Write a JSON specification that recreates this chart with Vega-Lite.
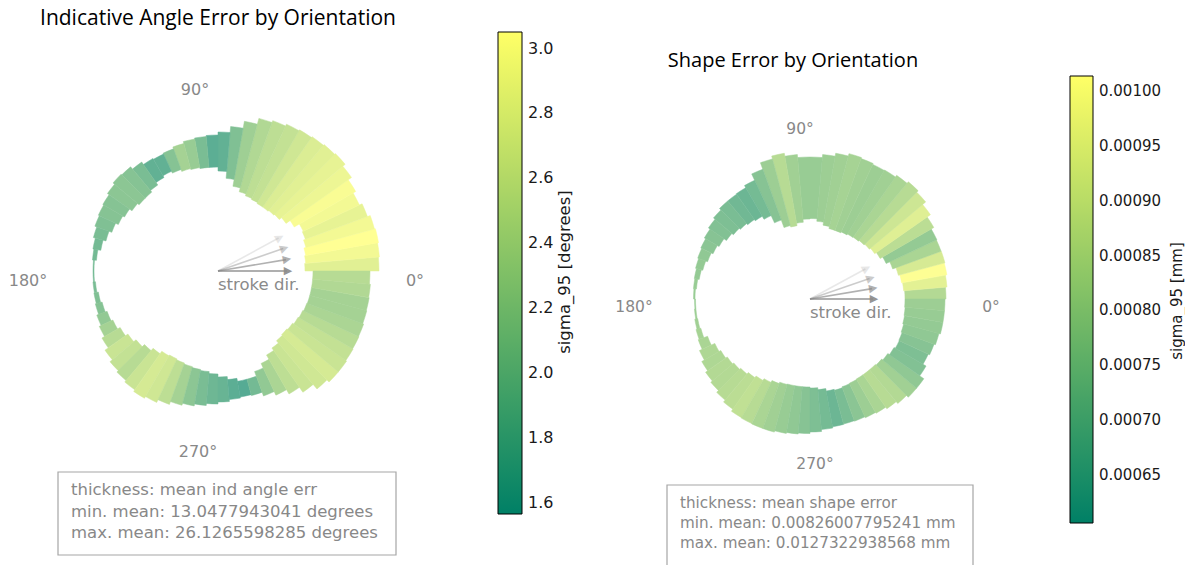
{
  "$schema": "https://vega.github.io/schema/vega-lite/v6.json",
  "background": "white",
  "padding": {"top": 8, "left": 0, "right": 0, "bottom": 0},
  "autosize": {"type": "pad"},
  "bounds": "flush",
  "spacing": 0,
  "config": {
    "view": {"stroke": null},
    "font": "DejaVu Sans",
    "title": {"font": "Open Sans", "fontWeight": "normal", "color": "#000000"}
  },
  "datasets": {
    "angle": [
      {"a0": 0, "a1": 5, "rin": 87, "rout": 161, "s": 2.8},
      {"a0": 5, "a1": 10, "rin": 88, "rout": 162, "s": 2.95},
      {"a0": 10, "a1": 15, "rin": 89, "rout": 163, "s": 3.05},
      {"a0": 15, "a1": 20, "rin": 91, "rout": 162, "s": 2.95},
      {"a0": 20, "a1": 25, "rin": 93, "rout": 159, "s": 2.85},
      {"a0": 25, "a1": 30, "rin": 94, "rout": 156, "s": 2.95},
      {"a0": 30, "a1": 35, "rin": 88, "rout": 159, "s": 3.0},
      {"a0": 35, "a1": 40, "rin": 83, "rout": 163, "s": 2.9},
      {"a0": 40, "a1": 45, "rin": 80, "rout": 166, "s": 2.85},
      {"a0": 45, "a1": 50, "rin": 79, "rout": 165, "s": 2.8},
      {"a0": 50, "a1": 55, "rin": 78, "rout": 164, "s": 2.75},
      {"a0": 55, "a1": 60, "rin": 78, "rout": 163, "s": 2.65},
      {"a0": 60, "a1": 65, "rin": 79, "rout": 162, "s": 2.55},
      {"a0": 65, "a1": 70, "rin": 80, "rout": 160, "s": 2.5},
      {"a0": 70, "a1": 75, "rin": 82, "rout": 158, "s": 2.4},
      {"a0": 75, "a1": 80, "rin": 86, "rout": 152, "s": 2.25},
      {"a0": 80, "a1": 85, "rin": 93, "rout": 145, "s": 2.0},
      {"a0": 85, "a1": 90, "rin": 100, "rout": 139, "s": 1.75},
      {"a0": 90, "a1": 95, "rin": 104, "rout": 136, "s": 1.7},
      {"a0": 95, "a1": 100, "rin": 104, "rout": 135, "s": 1.95},
      {"a0": 100, "a1": 105, "rin": 105, "rout": 134, "s": 2.2},
      {"a0": 105, "a1": 110, "rin": 106, "rout": 132, "s": 2.3},
      {"a0": 110, "a1": 115, "rin": 108, "rout": 130, "s": 2.05},
      {"a0": 115, "a1": 120, "rin": 110, "rout": 129, "s": 1.75},
      {"a0": 120, "a1": 125, "rin": 108, "rout": 130, "s": 1.75},
      {"a0": 125, "a1": 130, "rin": 105, "rout": 133, "s": 1.95},
      {"a0": 130, "a1": 135, "rin": 103, "rout": 136, "s": 2.05},
      {"a0": 135, "a1": 140, "rin": 103, "rout": 137, "s": 2.1},
      {"a0": 140, "a1": 145, "rin": 105, "rout": 135, "s": 2.1},
      {"a0": 145, "a1": 150, "rin": 108, "rout": 133, "s": 2.05},
      {"a0": 150, "a1": 155, "rin": 110, "rout": 132, "s": 2.05},
      {"a0": 155, "a1": 160, "rin": 113, "rout": 131, "s": 2.0},
      {"a0": 160, "a1": 165, "rin": 116, "rout": 129, "s": 1.95},
      {"a0": 165, "a1": 170, "rin": 119, "rout": 127, "s": 1.9},
      {"a0": 170, "a1": 175, "rin": 122, "rout": 126, "s": 1.9},
      {"a0": 175, "a1": 180, "rin": 124, "rout": 125, "s": 1.9},
      {"a0": 180, "a1": 185, "rin": 124, "rout": 125, "s": 1.9},
      {"a0": 185, "a1": 190, "rin": 123, "rout": 125.5, "s": 1.95},
      {"a0": 190, "a1": 195, "rin": 121.5, "rout": 126, "s": 2.0},
      {"a0": 195, "a1": 200, "rin": 120, "rout": 127, "s": 2.05},
      {"a0": 200, "a1": 205, "rin": 118, "rout": 129, "s": 2.15},
      {"a0": 205, "a1": 210, "rin": 116, "rout": 131, "s": 2.3},
      {"a0": 210, "a1": 215, "rin": 113, "rout": 134, "s": 2.45},
      {"a0": 215, "a1": 220, "rin": 110, "rout": 138, "s": 2.6},
      {"a0": 220, "a1": 225, "rin": 107, "rout": 141, "s": 2.55},
      {"a0": 225, "a1": 230, "rin": 104, "rout": 143, "s": 2.45},
      {"a0": 230, "a1": 235, "rin": 101, "rout": 145, "s": 2.6},
      {"a0": 235, "a1": 240, "rin": 98, "rout": 147, "s": 2.7},
      {"a0": 240, "a1": 245, "rin": 97, "rout": 145, "s": 2.65},
      {"a0": 245, "a1": 250, "rin": 98, "rout": 142, "s": 2.5},
      {"a0": 250, "a1": 255, "rin": 99, "rout": 139, "s": 2.3},
      {"a0": 255, "a1": 260, "rin": 100, "rout": 137, "s": 2.1},
      {"a0": 260, "a1": 265, "rin": 101, "rout": 135, "s": 1.95},
      {"a0": 265, "a1": 270, "rin": 103, "rout": 133, "s": 1.85},
      {"a0": 270, "a1": 275, "rin": 106, "rout": 131, "s": 1.8},
      {"a0": 275, "a1": 280, "rin": 109, "rout": 129, "s": 1.7},
      {"a0": 280, "a1": 285, "rin": 112, "rout": 128, "s": 1.65},
      {"a0": 285, "a1": 290, "rin": 112, "rout": 129, "s": 1.9},
      {"a0": 290, "a1": 295, "rin": 107, "rout": 133, "s": 2.15},
      {"a0": 295, "a1": 300, "rin": 102, "rout": 137, "s": 2.35},
      {"a0": 300, "a1": 305, "rin": 97, "rout": 142, "s": 2.5},
      {"a0": 305, "a1": 310, "rin": 94, "rout": 148, "s": 2.6},
      {"a0": 310, "a1": 315, "rin": 91, "rout": 154, "s": 2.65},
      {"a0": 315, "a1": 320, "rin": 90, "rout": 157, "s": 2.7},
      {"a0": 320, "a1": 325, "rin": 91, "rout": 157, "s": 2.6},
      {"a0": 325, "a1": 330, "rin": 92.5, "rout": 156, "s": 2.55},
      {"a0": 330, "a1": 335, "rin": 93.5, "rout": 155.5, "s": 2.45},
      {"a0": 335, "a1": 340, "rin": 94.5, "rout": 155, "s": 2.35},
      {"a0": 340, "a1": 345, "rin": 95, "rout": 154, "s": 2.3},
      {"a0": 345, "a1": 350, "rin": 95, "rout": 153.5, "s": 2.3},
      {"a0": 350, "a1": 355, "rin": 95, "rout": 153, "s": 2.4},
      {"a0": 355, "a1": 360, "rin": 95, "rout": 152, "s": 2.45}
    ],
    "shape": [
      {"a0": 0, "a1": 5, "rin": 95, "rout": 136, "s": 0.00084},
      {"a0": 5, "a1": 10, "rin": 94, "rout": 137.5, "s": 0.00095},
      {"a0": 10, "a1": 15, "rin": 93, "rout": 139, "s": 0.00101},
      {"a0": 15, "a1": 20, "rin": 91.5, "rout": 139.7, "s": 0.00092},
      {"a0": 20, "a1": 25, "rin": 88, "rout": 139.5, "s": 0.00082},
      {"a0": 25, "a1": 30, "rin": 84, "rout": 140, "s": 0.00077},
      {"a0": 30, "a1": 35, "rin": 81, "rout": 143, "s": 0.00086},
      {"a0": 35, "a1": 40, "rin": 79, "rout": 147, "s": 0.00094},
      {"a0": 40, "a1": 45, "rin": 77.5, "rout": 151, "s": 0.0009},
      {"a0": 45, "a1": 50, "rin": 76.5, "rout": 153, "s": 0.00085},
      {"a0": 50, "a1": 55, "rin": 75.5, "rout": 151, "s": 0.00082},
      {"a0": 55, "a1": 60, "rin": 75, "rout": 149, "s": 0.0008},
      {"a0": 60, "a1": 65, "rin": 74, "rout": 148.5, "s": 0.00079},
      {"a0": 65, "a1": 70, "rin": 73, "rout": 149.5, "s": 0.0008},
      {"a0": 70, "a1": 75, "rin": 73, "rout": 150.5, "s": 0.00081},
      {"a0": 75, "a1": 80, "rin": 75, "rout": 148, "s": 0.0008},
      {"a0": 80, "a1": 85, "rin": 78, "rout": 145, "s": 0.00079},
      {"a0": 85, "a1": 90, "rin": 80.5, "rout": 142, "s": 0.00078},
      {"a0": 90, "a1": 95, "rin": 80, "rout": 142, "s": 0.00078},
      {"a0": 95, "a1": 100, "rin": 77, "rout": 145, "s": 0.0008},
      {"a0": 100, "a1": 105, "rin": 74.5, "rout": 148, "s": 0.00085},
      {"a0": 105, "a1": 110, "rin": 76, "rout": 145, "s": 0.00079},
      {"a0": 110, "a1": 115, "rin": 84, "rout": 138, "s": 0.00074},
      {"a0": 115, "a1": 120, "rin": 92, "rout": 131, "s": 0.0007},
      {"a0": 120, "a1": 125, "rin": 95.5, "rout": 128.5, "s": 0.00068},
      {"a0": 125, "a1": 130, "rin": 97, "rout": 128, "s": 0.00069},
      {"a0": 130, "a1": 135, "rin": 98.5, "rout": 128, "s": 0.00071},
      {"a0": 135, "a1": 140, "rin": 100, "rout": 126, "s": 0.00072},
      {"a0": 140, "a1": 145, "rin": 102, "rout": 124, "s": 0.00073},
      {"a0": 145, "a1": 150, "rin": 105, "rout": 122, "s": 0.00074},
      {"a0": 150, "a1": 155, "rin": 107, "rout": 120.5, "s": 0.00075},
      {"a0": 155, "a1": 160, "rin": 109, "rout": 119.5, "s": 0.00076},
      {"a0": 160, "a1": 165, "rin": 111, "rout": 118.5, "s": 0.00077},
      {"a0": 165, "a1": 170, "rin": 112.5, "rout": 117.5, "s": 0.00077},
      {"a0": 170, "a1": 175, "rin": 114, "rout": 117, "s": 0.00078},
      {"a0": 175, "a1": 180, "rin": 115, "rout": 116.5, "s": 0.00078},
      {"a0": 180, "a1": 185, "rin": 114.5, "rout": 115.5, "s": 0.00078},
      {"a0": 185, "a1": 190, "rin": 114.5, "rout": 116, "s": 0.00079},
      {"a0": 190, "a1": 195, "rin": 114, "rout": 117, "s": 0.0008},
      {"a0": 195, "a1": 200, "rin": 113, "rout": 118, "s": 0.00081},
      {"a0": 200, "a1": 205, "rin": 109, "rout": 119, "s": 0.00082},
      {"a0": 205, "a1": 210, "rin": 105, "rout": 122, "s": 0.00083},
      {"a0": 210, "a1": 215, "rin": 103, "rout": 125, "s": 0.00083},
      {"a0": 215, "a1": 220, "rin": 101, "rout": 127.5, "s": 0.00084},
      {"a0": 220, "a1": 225, "rin": 99.5, "rout": 129.5, "s": 0.00084},
      {"a0": 225, "a1": 230, "rin": 98, "rout": 132, "s": 0.00085},
      {"a0": 230, "a1": 235, "rin": 96, "rout": 134.5, "s": 0.00086},
      {"a0": 235, "a1": 240, "rin": 94, "rout": 137, "s": 0.00087},
      {"a0": 240, "a1": 245, "rin": 92, "rout": 137.5, "s": 0.00085},
      {"a0": 245, "a1": 250, "rin": 90, "rout": 137.8, "s": 0.00082},
      {"a0": 250, "a1": 255, "rin": 88.5, "rout": 137.8, "s": 0.0008},
      {"a0": 255, "a1": 260, "rin": 88, "rout": 136.5, "s": 0.00078},
      {"a0": 260, "a1": 265, "rin": 88, "rout": 135.5, "s": 0.00076},
      {"a0": 265, "a1": 270, "rin": 88, "rout": 134.5, "s": 0.00074},
      {"a0": 270, "a1": 275, "rin": 89, "rout": 133, "s": 0.00072},
      {"a0": 275, "a1": 280, "rin": 91, "rout": 131, "s": 0.0007},
      {"a0": 280, "a1": 285, "rin": 93.5, "rout": 129.8, "s": 0.00068},
      {"a0": 285, "a1": 290, "rin": 94.5, "rout": 129.5, "s": 0.00071},
      {"a0": 290, "a1": 295, "rin": 93.5, "rout": 130, "s": 0.00075},
      {"a0": 295, "a1": 300, "rin": 93, "rout": 131, "s": 0.00079},
      {"a0": 300, "a1": 305, "rin": 92.5, "rout": 132, "s": 0.00082},
      {"a0": 305, "a1": 310, "rin": 92.5, "rout": 134, "s": 0.00085},
      {"a0": 310, "a1": 315, "rin": 92.5, "rout": 136.5, "s": 0.00084},
      {"a0": 315, "a1": 320, "rin": 93.5, "rout": 139, "s": 0.0008},
      {"a0": 320, "a1": 325, "rin": 95, "rout": 139, "s": 0.00076},
      {"a0": 325, "a1": 330, "rin": 97, "rout": 134, "s": 0.00073},
      {"a0": 330, "a1": 335, "rin": 98.5, "rout": 130.5, "s": 0.00072},
      {"a0": 335, "a1": 340, "rin": 98, "rout": 132, "s": 0.00074},
      {"a0": 340, "a1": 345, "rin": 97, "rout": 133.5, "s": 0.00076},
      {"a0": 345, "a1": 350, "rin": 96, "rout": 135, "s": 0.00077},
      {"a0": 350, "a1": 355, "rin": 95.5, "rout": 135, "s": 0.00078},
      {"a0": 355, "a1": 360, "rin": 95, "rout": 135, "s": 0.00079}
    ],
    "arrows": [
      {"ang": 0},
      {"ang": 9.5},
      {"ang": 19},
      {"ang": 28.5}
    ]
  },
  "resolve": {"scale": {"color": "independent", "fill": "independent", "stroke": "independent", "opacity": "independent", "theta": "independent", "radius": "independent", "angle": "independent", "x": "independent", "y": "independent"}},
  "hconcat": [
    {
      "width": 436,
      "height": 480,
      "title": {"text": "Indicative Angle Error by Orientation", "fontSize": 21, "offset": 2},
      "layer": [
        {
          "data": {"name": "angle"},
          "mark": {"type": "point", "filled": true, "fillOpacity": 0, "strokeOpacity": 0, "size": 1},
          "encoding": {
            "color": {
              "field": "s", "type": "quantitative",
              "scale": {"type": "linear", "domain": [1.565, 3.051], "range": ["#008066", "#ffff66"], "interpolate": "rgb"},
              "legend": {
                "type": "gradient",
                "orient": "none", "legendX": 498, "legendY": 1, "direction": "vertical", "padding": 0,
                "gradientLength": 482, "gradientThickness": 24, "gradientStrokeColor": "#000000", "gradientStrokeWidth": 1,
                "values": [1.6, 1.8, 2.0, 2.2, 2.4, 2.6, 2.8, 3.0], "format": ".1f",
                "labelFont": "DejaVu Sans", "labelFontSize": 16, "labelColor": "#1a1a1a", "labelOffset": 6, "labelOverlap": false,
                "title": null
              }
            }
          }
        },
        {
          "data": {"name": "angle"},
          "mark": {"type": "arc", "strokeWidth": 0.5},
          "encoding": {
            "theta": {"field": "a0", "type": "quantitative", "stack": null, "scale": {"type": "linear", "domain": [0, 360], "range": [1.5707963, -4.712389], "nice": false}},
            "theta2": {"field": "a1"},
            "radius": {"field": "rout", "type": "quantitative", "scale": {"type": "linear", "domain": [0, 200], "range": [0, 200], "zero": true, "nice": false}},
            "radius2": {"field": "rin"},
            "fill": {"field": "s", "type": "quantitative", "scale": {"domain": [1.5649, 3.0511], "range": ["#4ca694", "#ffff94"], "interpolate": "rgb"}, "legend": null},
            "stroke": {"field": "s", "type": "quantitative", "scale": {"domain": [1.5648, 3.0512], "range": ["#4ca694", "#ffff94"], "interpolate": "rgb"}, "legend": null}
          }
        },
        {
          "data": {"values": [{"ang": 0, "label": "0°"}]},
          "mark": {"type": "text", "fontSize": 16, "color": "#888888", "align": "center", "baseline": "middle", "dx": 5, "dy": 10},
          "encoding": {
            "theta": {"field": "ang", "type": "quantitative", "stack": null, "scale": {"type": "linear", "domain": [0, 360], "range": [1.5707963, -4.712389], "nice": false}},
            "radius": {"datum": 192, "type": "quantitative"},
            "text": {"field": "label"}
          }
        },
        {
          "data": {"values": [{"ang": 90, "label": "90°"}]},
          "mark": {"type": "text", "fontSize": 16, "color": "#888888", "align": "center", "baseline": "middle", "dx": -23, "dy": 11},
          "encoding": {
            "theta": {"field": "ang", "type": "quantitative", "stack": null, "scale": {"type": "linear", "domain": [0, 360], "range": [1.5707963, -4.712389], "nice": false}},
            "radius": {"datum": 192, "type": "quantitative"},
            "text": {"field": "label"}
          }
        },
        {
          "data": {"values": [{"ang": 180, "label": "180°"}]},
          "mark": {"type": "text", "fontSize": 16, "color": "#888888", "align": "center", "baseline": "middle", "dx": 2, "dy": 10},
          "encoding": {
            "theta": {"field": "ang", "type": "quantitative", "stack": null, "scale": {"type": "linear", "domain": [0, 360], "range": [1.5707963, -4.712389], "nice": false}},
            "radius": {"datum": 192, "type": "quantitative"},
            "text": {"field": "label"}
          }
        },
        {
          "data": {"values": [{"ang": 270, "label": "270°"}]},
          "mark": {"type": "text", "fontSize": 16, "color": "#888888", "align": "center", "baseline": "middle", "dx": -20, "dy": -11},
          "encoding": {
            "theta": {"field": "ang", "type": "quantitative", "stack": null, "scale": {"type": "linear", "domain": [0, 360], "range": [1.5707963, -4.712389], "nice": false}},
            "radius": {"datum": 192, "type": "quantitative"},
            "text": {"field": "label"}
          }
        },
        {
          "data": {"name": "arrows"},
          "mark": {"type": "arc", "filled": false, "color": "#8a8a8a", "strokeWidth": 1.6},
          "encoding": {
            "theta": {"field": "ang", "type": "quantitative", "stack": null, "scale": {"type": "linear", "domain": [0, 360], "range": [1.5707963, -4.712389], "nice": false}},
            "theta2": {"field": "ang"},
            "radius": {"datum": 69, "type": "quantitative"},
            "radius2": {"datum": 0},
            "opacity": {"field": "ang", "type": "quantitative", "scale": {"domain": [0, 28.5], "range": [0.9, 0.2]}, "legend": null}
          }
        },
        {
          "data": {"name": "arrows"},
          "mark": {"type": "text", "text": "▶", "fontSize": 11, "color": "#8a8a8a", "align": "center", "baseline": "middle"},
          "encoding": {
            "theta": {"field": "ang", "type": "quantitative", "stack": null, "scale": {"type": "linear", "domain": [0, 360], "range": [1.5707963, -4.712389], "nice": false}},
            "radius": {"datum": 70, "type": "quantitative"},
            "angle": {"field": "ang", "type": "quantitative", "scale": {"domain": [0, 360], "range": [360, 0]}},
            "opacity": {"field": "ang", "type": "quantitative", "scale": {"domain": [0, 28.5], "range": [0.9, 0.2]}, "legend": null}
          }
        },
        {
          "data": {"values": [{"label": "stroke dir."}]},
          "mark": {"type": "text", "fontSize": 16.5, "color": "#8a8a8a", "align": "left", "baseline": "top", "dy": 6},
          "encoding": {
            "theta": {"datum": 0, "type": "quantitative", "scale": {"type": "linear", "domain": [0, 360], "range": [1.5707963, -4.712389], "nice": false}},
            "radius": {"datum": 0, "type": "quantitative"},
            "text": {"field": "label"}
          }
        },
        {
          "data": {"values": [{"label": "sigma_95 [degrees]"}]},
          "mark": {"type": "text", "fontSize": 16.5, "color": "#1a1a1a", "align": "center", "baseline": "middle", "angle": 270},
          "encoding": {
            "x": {"datum": 347, "type": "quantitative", "scale": {"domain": [-218, 218], "nice": false, "zero": false}, "axis": null},
            "y": {"datum": -1, "type": "quantitative", "scale": {"domain": [-240, 240], "nice": false, "zero": false}, "axis": null},
            "text": {"field": "label"}
          }
        },
        {
          "data": {"values": [{"label": "note"}]},
          "mark": {"type": "rect", "fill": "#ffffff", "fillOpacity": 0, "stroke": "#a6a6a6", "strokeWidth": 1.2},
          "encoding": {
            "x": {"datum": -160, "type": "quantitative", "scale": {"domain": [-218, 218], "nice": false, "zero": false}, "axis": null},
            "x2": {"datum": 178},
            "y": {"datum": -201, "type": "quantitative", "scale": {"domain": [-240, 240], "nice": false, "zero": false}, "axis": null},
            "y2": {"datum": -284}
          }
        },
        {
          "data": {"values": [{"label": "note"}]},
          "mark": {
            "type": "text", "align": "left", "baseline": "top", "fontSize": 16.5, "lineHeight": 21.5, "color": "#888888",
            "text": ["thickness: mean ind angle err", "min. mean: 13.0477943041 degrees", "max. mean: 26.1265598285 degrees"]
          },
          "encoding": {
            "x": {"datum": -147, "type": "quantitative", "scale": {"domain": [-218, 218], "nice": false, "zero": false}, "axis": null},
            "y": {"datum": -211, "type": "quantitative", "scale": {"domain": [-240, 240], "nice": false, "zero": false}, "axis": null}
          }
        }
      ]
    },
    {
      "width": 748,
      "height": 536,
      "title": {"text": "Shape Error by Orientation", "fontSize": 20, "offset": 2, "dx": -17, "dy": 42},
      "layer": [
        {
          "data": {"name": "shape"},
          "mark": {"type": "point", "filled": true, "fillOpacity": 0, "strokeOpacity": 0, "size": 1},
          "encoding": {
            "color": {
              "field": "s", "type": "quantitative",
              "scale": {"type": "linear", "domain": [0.000606, 0.001014], "range": ["#008066", "#ffff66"], "interpolate": "rgb"},
              "legend": {
                "type": "gradient",
                "orient": "none", "legendX": 634, "legendY": 45, "direction": "vertical", "padding": 0,
                "gradientLength": 447, "gradientThickness": 23, "gradientStrokeColor": "#000000", "gradientStrokeWidth": 1,
                "values": [0.00065, 0.0007, 0.00075, 0.0008, 0.00085, 0.0009, 0.00095, 0.001], "format": ".5f",
                "labelFont": "DejaVu Sans", "labelFontSize": 15, "labelColor": "#1a1a1a", "labelOffset": 6, "labelOverlap": false,
                "title": null
              }
            }
          }
        },
        {
          "data": {"name": "shape"},
          "mark": {"type": "arc", "strokeWidth": 0.5},
          "encoding": {
            "theta": {"field": "a0", "type": "quantitative", "stack": null, "scale": {"type": "linear", "domain": [0, 360], "range": [1.5707963, -4.712389], "nice": false}},
            "theta2": {"field": "a1"},
            "radius": {"field": "rout", "type": "quantitative", "scale": {"type": "linear", "domain": [0, 200], "range": [0, 200], "zero": true, "nice": false}},
            "radius2": {"field": "rin"},
            "fill": {"field": "s", "type": "quantitative", "scale": {"domain": [0.0006059, 0.0010141], "range": ["#4ca694", "#ffff94"], "interpolate": "rgb"}, "legend": null},
            "stroke": {"field": "s", "type": "quantitative", "scale": {"domain": [0.0006058, 0.0010142], "range": ["#4ca694", "#ffff94"], "interpolate": "rgb"}, "legend": null}
          }
        },
        {
          "data": {"values": [{"ang": 0, "label": "0°"}]},
          "mark": {"type": "text", "fontSize": 15.5, "color": "#888888", "align": "center", "baseline": "middle", "dx": 5, "dy": 8},
          "encoding": {
            "theta": {"field": "ang", "type": "quantitative", "stack": null, "scale": {"type": "linear", "domain": [0, 360], "range": [1.5707963, -4.712389], "nice": false}},
            "radius": {"datum": 176, "type": "quantitative"},
            "text": {"field": "label"}
          }
        },
        {
          "data": {"values": [{"ang": 90, "label": "90°"}]},
          "mark": {"type": "text", "fontSize": 15.5, "color": "#888888", "align": "center", "baseline": "middle", "dx": -10, "dy": 6},
          "encoding": {
            "theta": {"field": "ang", "type": "quantitative", "stack": null, "scale": {"type": "linear", "domain": [0, 360], "range": [1.5707963, -4.712389], "nice": false}},
            "radius": {"datum": 176, "type": "quantitative"},
            "text": {"field": "label"}
          }
        },
        {
          "data": {"values": [{"ang": 180, "label": "180°"}]},
          "mark": {"type": "text", "fontSize": 15.5, "color": "#888888", "align": "center", "baseline": "middle", "dy": 8},
          "encoding": {
            "theta": {"field": "ang", "type": "quantitative", "stack": null, "scale": {"type": "linear", "domain": [0, 360], "range": [1.5707963, -4.712389], "nice": false}},
            "radius": {"datum": 176, "type": "quantitative"},
            "text": {"field": "label"}
          }
        },
        {
          "data": {"values": [{"ang": 270, "label": "270°"}]},
          "mark": {"type": "text", "fontSize": 15.5, "color": "#888888", "align": "center", "baseline": "middle", "dx": 5, "dy": -11},
          "encoding": {
            "theta": {"field": "ang", "type": "quantitative", "stack": null, "scale": {"type": "linear", "domain": [0, 360], "range": [1.5707963, -4.712389], "nice": false}},
            "radius": {"datum": 176, "type": "quantitative"},
            "text": {"field": "label"}
          }
        },
        {
          "data": {"name": "arrows"},
          "mark": {"type": "arc", "filled": false, "color": "#8a8a8a", "strokeWidth": 1.6},
          "encoding": {
            "theta": {"field": "ang", "type": "quantitative", "stack": null, "scale": {"type": "linear", "domain": [0, 360], "range": [1.5707963, -4.712389], "nice": false}},
            "theta2": {"field": "ang"},
            "radius": {"datum": 63, "type": "quantitative"},
            "radius2": {"datum": 0},
            "opacity": {"field": "ang", "type": "quantitative", "scale": {"domain": [0, 28.5], "range": [0.9, 0.2]}, "legend": null}
          }
        },
        {
          "data": {"name": "arrows"},
          "mark": {"type": "text", "text": "▶", "fontSize": 11, "color": "#8a8a8a", "align": "center", "baseline": "middle"},
          "encoding": {
            "theta": {"field": "ang", "type": "quantitative", "stack": null, "scale": {"type": "linear", "domain": [0, 360], "range": [1.5707963, -4.712389], "nice": false}},
            "radius": {"datum": 64, "type": "quantitative"},
            "angle": {"field": "ang", "type": "quantitative", "scale": {"domain": [0, 360], "range": [360, 0]}},
            "opacity": {"field": "ang", "type": "quantitative", "scale": {"domain": [0, 28.5], "range": [0.9, 0.2]}, "legend": null}
          }
        },
        {
          "data": {"values": [{"label": "stroke dir."}]},
          "mark": {"type": "text", "fontSize": 16.5, "color": "#8a8a8a", "align": "left", "baseline": "top", "dy": 6},
          "encoding": {
            "theta": {"datum": 0, "type": "quantitative", "scale": {"type": "linear", "domain": [0, 360], "range": [1.5707963, -4.712389], "nice": false}},
            "radius": {"datum": 0, "type": "quantitative"},
            "text": {"field": "label"}
          }
        },
        {
          "data": {"values": [{"label": "sigma_95 [mm]"}]},
          "mark": {"type": "text", "fontSize": 15, "color": "#1a1a1a", "align": "center", "baseline": "middle", "angle": 270},
          "encoding": {
            "x": {"datum": 367, "type": "quantitative", "scale": {"domain": [-374, 374], "nice": false, "zero": false}, "axis": null},
            "y": {"datum": -2, "type": "quantitative", "scale": {"domain": [-268, 268], "nice": false, "zero": false}, "axis": null},
            "text": {"field": "label"}
          }
        },
        {
          "data": {"values": [{"label": "note"}]},
          "mark": {"type": "rect", "fill": "#ffffff", "fillOpacity": 0, "stroke": "#a6a6a6", "strokeWidth": 1.2},
          "encoding": {
            "x": {"datum": -143, "type": "quantitative", "scale": {"domain": [-374, 374], "nice": false, "zero": false}, "axis": null},
            "x2": {"datum": 163},
            "y": {"datum": -186, "type": "quantitative", "scale": {"domain": [-268, 268], "nice": false, "zero": false}, "axis": null},
            "y2": {"datum": -290}
          }
        },
        {
          "data": {"values": [{"label": "note"}]},
          "mark": {
            "type": "text", "align": "left", "baseline": "top", "fontSize": 15.2, "lineHeight": 20, "color": "#888888",
            "text": ["thickness: mean shape error", "min. mean: 0.00826007795241 mm", "max. mean: 0.0127322938568 mm"]
          },
          "encoding": {
            "x": {"datum": -130, "type": "quantitative", "scale": {"domain": [-374, 374], "nice": false, "zero": false}, "axis": null},
            "y": {"datum": -197, "type": "quantitative", "scale": {"domain": [-268, 268], "nice": false, "zero": false}, "axis": null}
          }
        }
      ]
    }
  ]
}
